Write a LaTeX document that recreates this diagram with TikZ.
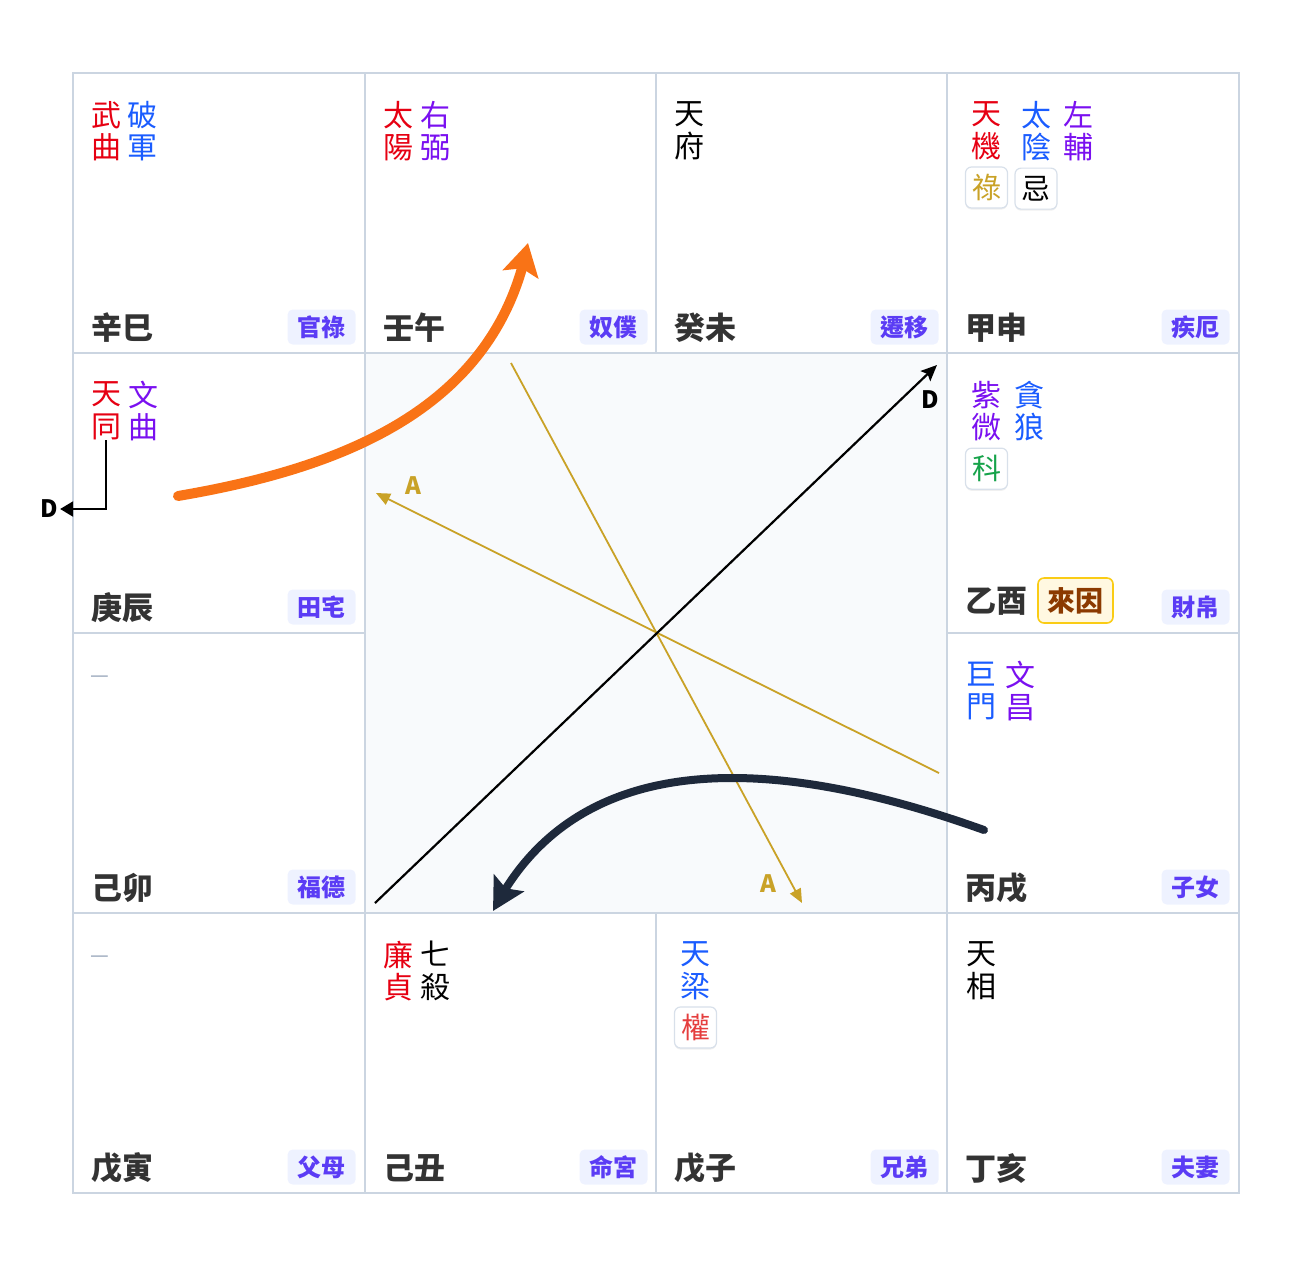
\documentclass[tikz,border=0pt]{standalone}
\usepackage{fontspec}
\setmainfont{Noto Sans CJK TC}
\usetikzlibrary{arrows.meta,bending,shadows,positioning}

\definecolor{gridgray}{HTML}{CBD5E1}
\definecolor{centerbg}{HTML}{F8FAFC}
\definecolor{branchtext}{HTML}{333333}
\definecolor{tagbg}{HTML}{EEF2FF}
\definecolor{tagtext}{HTML}{5B3CF5}
\definecolor{starred}{HTML}{E60012}
\definecolor{starblue}{HTML}{1A5CFF}
\definecolor{starpurple}{HTML}{7A10F0}
\definecolor{hgold}{HTML}{C9A227}
\definecolor{kegreen}{HTML}{16A34A}
\definecolor{quanred}{HTML}{E53E3E}
\definecolor{badgeline}{HTML}{D8E0EA}
\definecolor{laiborder}{HTML}{FACC15}
\definecolor{laifill}{HTML}{FFF8E1}
\definecolor{laitext}{HTML}{8B3A00}
\definecolor{flyorange}{HTML}{F97316}
\definecolor{flynavy}{HTML}{1E293B}
\definecolor{dashgray}{HTML}{94A3B8}

\begin{document}
\begin{tikzpicture}[x=0.5pt, y=-0.5pt,
    cellline/.style = {draw=gridgray, line width=1pt},
    branch/.style = {anchor=west, inner sep=0, text=branchtext, font=\fontsize{15.5}{15.5}\selectfont\bfseries},
    palace/.style = {anchor=east, fill=tagbg, text=tagtext, rounded corners=2.5pt, minimum width=34pt, minimum height=17.5pt, inner sep=0, font=\fontsize{12}{12}\selectfont\bfseries},
    starname/.style = {inner sep=0, align=center, font=\fontsize{15}{16.3}\selectfont},
    badge/.style = {fill=white, draw=badgeline, line width=0.6pt, rounded corners=3pt, minimum width=21pt, minimum height=20.5pt, inner sep=0, font=\fontsize{14.5}{14.5}\selectfont, drop shadow={shadow xshift=0pt, shadow yshift=-0.8pt, opacity=0.12}},
    nostar/.style = {anchor=west, inner sep=0, text=dashgray, font=\fontsize{10.5}{10.5}\selectfont},
    hualine/.style = {draw=hgold, line width=0.9pt, -{Triangle[length=7pt, width=6pt]}},
    ziline/.style = {draw=black, line width=1.1pt},
    flyarrow/.style = {line width=#1, line cap=round},
    tag/.style = {font=\fontsize{12}{12}\selectfont\bfseries, inner sep=1pt}]
    \useasboundingbox (0,0) rectangle (1312,1266);

    % board
    \fill[centerbg] (365,353) rectangle (947,913);
    \draw[cellline] (73,73) rectangle (1239,1193);
    \draw[cellline] (73,353) -- (1239,353);
    \draw[cellline] (73,913) -- (1239,913);
    \draw[cellline] (73,633) -- (365,633);
    \draw[cellline] (947,633) -- (1239,633);
    \draw[cellline] (365,73) -- (365,1193);
    \draw[cellline] (947,73) -- (947,1193);
    \draw[cellline] (656,73) -- (656,353);
    \draw[cellline] (656,913) -- (656,1193);

    % top row
    \node[starname, text=starred] (wuqu) at (106,131) {武\\曲};
    \node[starname, text=starblue] (pojun) at (142,131) {破\\軍};
    \node[branch] (xinsi) at (91,328) {辛巳};
    \node[palace] (guanlu) at (356,327) {官祿};

    \node[starname, text=starred] (taiyang) at (398,131) {太\\陽};
    \node[starname, text=starpurple] (youbi) at (435,131) {右\\弼};
    \node[branch] (renwu) at (383,328) {壬午};
    \node[palace] (nupu) at (648,327) {奴僕};

    \node[starname, text=black] (tianfu) at (689,131) {天\\府};
    \node[branch] (guiwei) at (674,328) {癸未};
    \node[palace] (qianyi) at (939,327) {遷移};

    \node[starname, text=starred] (tianji) at (986.5,131) {天\\機};
    \node[starname, text=starblue] (taiyin) at (1036,131) {太\\陰};
    \node[starname, text=starpurple] (zuofu) at (1078,131) {左\\輔};
    \node[badge, text=hgold] (lu) [below=3pt of tianji] {祿};
    \node[badge, text=black] (ji) [below=3pt of taiyin] {忌};
    \node[branch] (jiashen) at (965,328) {甲申};
    \node[palace] (jie) at (1230,327) {疾厄};

    % middle rows
    \node[starname, text=starred] (tiantong) at (106,411) {天\\同};
    \node[starname, text=starpurple] (wenqu) at (143,411) {文\\曲};
    \node[branch] (gengchen) at (91,608) {庚辰};
    \node[palace] (tianzhai) at (356,607) {田宅};

    \node[starname, text=starpurple] (ziwei) at (986.5,411) {紫\\微};
    \node[starname, text=starblue] (tanlang) at (1029.5,411) {貪\\狼};
    \node[badge, text=kegreen] (ke) [below=3pt of ziwei] {科};
    \node[branch] (yiyou) at (965,601) {乙酉};
    \node[draw=laiborder, fill=laifill, text=laitext, line width=0.8pt, rounded corners=3pt, minimum width=37.5pt, minimum height=22.5pt, inner sep=0, font=\fontsize{14}{14}\selectfont\bfseries] (laiyin) at (1075.5,600.5) {來因};
    \node[palace] (caibo) at (1230,607) {財帛};

    \node[nostar] (none1) at (90,679) {—};
    \node[branch] (jimao) at (91,888) {己卯};
    \node[palace] (fude) at (356,887) {福德};

    \node[starname, text=starblue] (jumen) at (981,691) {巨\\門};
    \node[starname, text=starpurple] (wenchang) at (1020,691) {文\\昌};
    \node[branch] (bingxu) at (965,888) {丙戌};
    \node[palace] (zinv) at (1230,887) {子女};

    % bottom row
    \node[nostar] (none2) at (90,959) {—};
    \node[branch] (wuyin) at (91,1168) {戊寅};
    \node[palace] (fumu) at (356,1167) {父母};

    \node[starname, text=starred] (lianzhen) at (398,971) {廉\\貞};
    \node[starname, text=black] (qisha) at (435,971) {七\\殺};
    \node[branch] (jichou) at (383,1168) {己丑};
    \node[palace] (minggong) at (648,1167) {命宮};

    \node[starname, text=starblue] (tianliang) at (695.5,971) {天\\梁};
    \node[badge, text=quanred] (quan) [below=3pt of tianliang] {權};
    \node[branch] (wuzi) at (674,1168) {戊子};
    \node[palace] (xiongdi) at (939,1167) {兄弟};

    \node[starname, text=black] (tianxiang) at (981,971) {天\\相};
    \node[branch] (dinghai) at (965,1168) {丁亥};
    \node[palace] (fuqi) at (1230,1167) {夫妻};

    % transformations
    \coordinate (a1s) at (511,363);
    \coordinate (a1e) at (802,903);
    \coordinate (a2s) at (939,773);
    \coordinate (a2e) at (376,493);
    \coordinate (d2s) at (375,903);
    \coordinate (d2e) at (937,365);
    \draw[hualine] (a1s) -- (a1e);
    \draw[hualine] (a2s) -- (a2e);
    \node[tag, text=hgold] (atag1) at (413,486) {A};
    \node[tag, text=hgold] (atag2) at (768,884) {A};
    \draw[ziline, -{Stealth[length=8pt, width=7pt, inset=1.5pt]}] (d2s) -- (d2e);
    \node[tag] (dtag2) at (930,400) {D};

    \node[tag] (dtag1) at (49,509) {D};
    \draw[ziline, -{Triangle[length=6.5pt, width=7.5pt]}] (tiantong.south) |- (dtag1.east);

    % flying arrows
    \coordinate (o1) at (178,496);
    \coordinate (o2) at (528,243);
    \draw[flyarrow=5pt, draw=flyorange, -{Stealth[length=16pt, width=18pt, inset=3pt]}] (o1) .. controls (330,470) and (495,415) .. (o2);
    \coordinate (n1) at (984,830);
    \coordinate (n2) at (493,911);
    \draw[flyarrow=4pt, draw=flynavy, -{Stealth[length=16pt, width=17pt, inset=3pt]}] (n1) .. controls (830,775) and (590,720) .. (n2);
\end{tikzpicture}
\end{document}
